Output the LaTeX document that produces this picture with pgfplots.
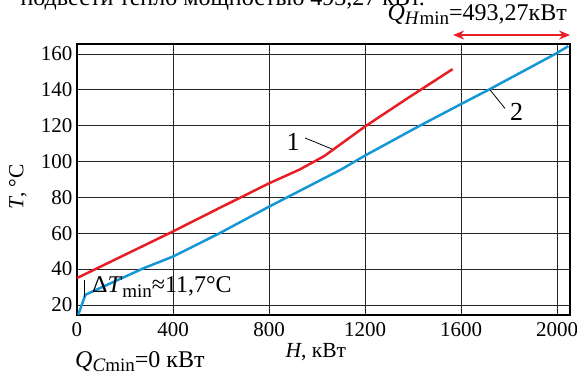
\documentclass[border=0pt]{standalone}
\usepackage{fontspec}
\setmainfont{Liberation Serif}
\usepackage{pgfplots}
\pgfplotsset{compat=1.18}
\usetikzlibrary{arrows.meta}
\definecolor{cred}{RGB}{232,30,38}
\definecolor{cblue}{RGB}{20,150,215}
\newcommand{\fs}{\fontsize{21bp}{25bp}\selectfont}
\newcommand{\fsm}{\fontsize{21.5bp}{25bp}\selectfont}
\newcommand{\fsa}{\fontsize{24bp}{28bp}\selectfont}
\newcommand{\fsb}{\fontsize{26bp}{30bp}\selectfont}
\newcommand{\sub}[1]{\raisebox{-0.4ex}{\fontsize{19bp}{21bp}\selectfont #1}}
\begin{document}
\begin{tikzpicture}[x=1bp,y=1bp]
\begin{axis}[
  at={(0,0)}, anchor=south west,
  scale only axis, width=493bp, height=271bp,
  xmin=0, xmax=2054, ymin=14.4, ymax=165.5,
  xtick={0,400,...,2000}, ytick={20,40,...,160},
  grid=major, major grid style={black!85, line width=0.7pt},
  axis line style={black, line width=1.1pt},
  tick style={draw=none},
  ticklabel style={font=\fs},
  xticklabel style={yshift=-4bp},
  yticklabel style={xshift=-1bp},
  /pgf/number format/assume math mode=true,
  /pgf/number format/set thousands separator={},
  xlabel={\textit{H}, кВт},
  x label style={font=\fsm, at={(axis description cs:0.416,-0.155)}, anchor=base west},
  ylabel={\textit{T}, °C},
  y label style={font=\fsm, at={(axis description cs:-0.1197,0.472)}, anchor=center},
  clip=false,
]
% curve 1 (red)
\addplot[cred, line width=2.5pt] coordinates {
 (0,35) (200,48) (400,61) (600,74.5) (800,87.8) (929,95.6) (1030,103)
 (1200,119.5) (1380,135.5) (1565,151.5)};
% curve 2 (blue)
\addplot[cblue, line width=2.5pt] coordinates {
 (5,14.5) (35,25.7) (278,40.5) (400,47) (594,60) (800,74.8) (929,83.7)
 (1100,95.5) (1200,103.3) (1429,120) (1600,132) (1721,140.4) (2000,160.5) (2047,164.3)};
% leaders and labels
\draw[black, line width=0.8pt] (axis cs:950,113.1) -- (axis cs:1062,106.96);
\node[font=\fsb] at (axis cs:900,110.9) {1};
\draw[black, line width=0.8pt] (axis cs:1721,139.9) -- (axis cs:1783,129.6);
\node[font=\fsb] at (axis cs:1832,127.8) {2};
\draw[black, line width=0.8pt] (axis cs:30,33.9) -- (axis cs:30,24.6);
\node[font=\fsa, anchor=base west, inner sep=0pt] at (axis cs:62,26.7)
  {Δ\textit{T}\sub{min}≈11,7°C};
% Q_H min arrow
\draw[cred, line width=2.2pt, {Stealth[length=11bp,width=9bp]}-{Stealth[length=11bp,width=9bp]}]
  (axis cs:1567,170.5) -- (axis cs:2054,170.5);
\end{axis}
\node[font=\fsa, anchor=base east, inner sep=0pt] at (490,295)
  {\textit{Q}\sub{\textit{H}min}=493,27кВт};
\node[font=\fsa, anchor=base west, inner sep=0pt] at (-2,-52)
  {\textit{Q}\sub{\textit{C}min}=0 кВт};
\node[font=\fsa, anchor=base east, inner sep=0pt] at (348,310)
  {подвести тепло мощностью 493,27 кВт.};
\pgfresetboundingbox
\useasboundingbox (-77,-64) rectangle (500,315);
\end{tikzpicture}
\end{document}
